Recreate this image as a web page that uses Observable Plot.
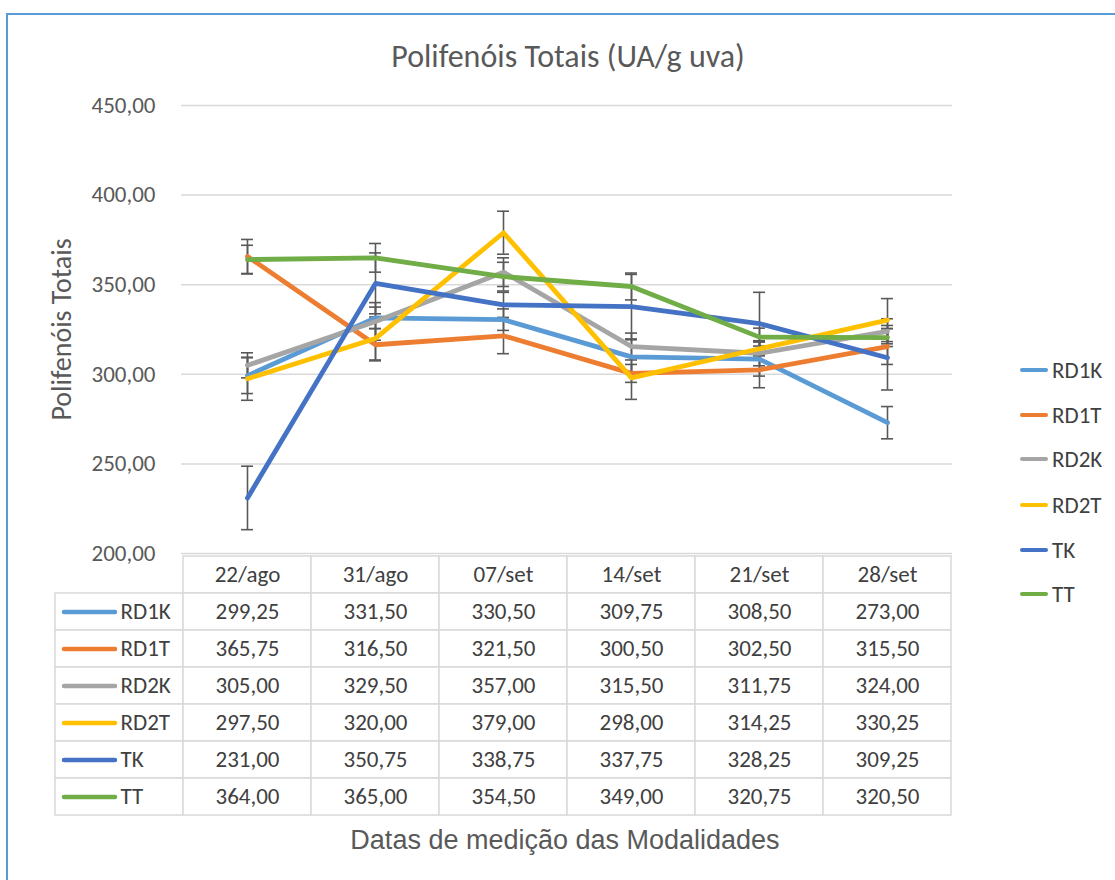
<!DOCTYPE html>
<html>
<head>
<meta charset="utf-8">
<script src="https://cdn.jsdelivr.net/npm/d3@7"></script>
<script src="https://cdn.jsdelivr.net/npm/@observablehq/plot@0.6"></script>
<style>
  html, body { margin: 0; padding: 0; background: #fff; }
  #root { position: relative; width: 1115px; height: 880px; overflow: hidden; background: #fff; }
  #frame { position: absolute; left: 6px; top: 13px; width: 1300px; height: 1000px;
           border-left: 2px solid #5b9bd5; border-top: 2px solid #5b9bd5; }
  .abs { position: absolute; }
  #title { left: 0; width: 1136px; top: 38px; text-align: center; font-family: Carlito, Calibri, Lato, sans-serif;
           font-size: 32px; line-height: 38px; color: #595959; }
  #xtitle { left: 0; width: 1130px; top: 824px; text-align: center; font-family: "Liberation Sans", Arial, sans-serif;
            font-size: 27px; line-height: 32px; color: #595959; }
  .leg { position: absolute; left: 1020px; height: 24px; display: flex; align-items: center;
         font-family: Carlito, Calibri, Lato, sans-serif; font-size: 23px; color: #404040; }
  .leg span.sw { display: inline-block; width: 28px; height: 4.5px; border-radius: 3px; margin-right: 4px; }
</style>
</head>
<body>
<div id="root">
  <div id="frame"></div>
  <div id="title" class="abs">Polifenóis Totais (UA/g uva)</div>
  <div id="chart" class="abs" style="left:0;top:80px;"></div>
  <div id="table" class="abs" style="left:0;top:552px;"></div>
  <div id="legend"></div>
  <div id="xtitle" class="abs">Datas de medição das Modalidades</div>
</div>
<script>
const dates = ["22/ago", "31/ago", "07/set", "14/set", "21/set", "28/set"];
const seriesNames = ["RD1K", "RD1T", "RD2K", "RD2T", "TK", "TT"];
const seriesColors = ["#5B9BD5", "#ED7D31", "#A5A5A5", "#FFC000", "#4472C4", "#70AD47"];

const RD1K = [299.25, 331.50, 330.50, 309.75, 308.50, 273.00];
const RD1T = [365.75, 316.50, 321.50, 300.50, 302.50, 315.50];
const RD2K = [305.00, 329.50, 357.00, 315.50, 311.75, 324.00];
const RD2T = [297.50, 320.00, 379.00, 298.00, 314.25, 330.25];
const TK   = [231.00, 350.75, 338.75, 337.75, 328.25, 309.25];
const TT   = [364.00, 365.00, 354.50, 349.00, 320.75, 320.50];

// error bar half-widths
const errRD1K = [10, 6, 6, 9.5, 9.5, 9];
const errRD1T = [9.5, 9, 10, 5, 10, 10];
const errRD2K = [7, 10.5, 8, 7.5, 7, 7];
const errRD2T = [12, 12, 12, 12, 4, 12];
const errTK   = [17.7, 17, 7, 18, 17.5, 18];
const errTT   = [8, 8, 8, 7.5, 5, 5];

const yDomain = [200, 450];

const valuesBySeries = {RD1K, RD1T, RD2K, RD2T, TK, TT};
const errBySeries = {RD1K: errRD1K, RD1T: errRD1T, RD2K: errRD2K, RD2T: errRD2T, TK: errTK, TT: errTT};

const rows = [];
for (const s of seriesNames) {
  dates.forEach((d, i) => rows.push({s, date: d, v: valuesBySeries[s][i], e: errBySeries[s][i]}));
}
const fmt = v => d3.format(".2f")(v).replace(".", ",");

const CAL = "Carlito, Calibri, Lato, sans-serif";
const color = {domain: seriesNames, range: seriesColors};
const ebStroke = "#595959";

const chart = Plot.plot({
  width: 1115, height: 473,
  marginTop: 25, marginBottom: 0, marginLeft: 181, marginRight: 163,
  style: {fontFamily: CAL, fontSize: "23px", color: "#595959", background: "transparent", overflow: "visible"},
  x: {type: "band", domain: dates, padding: 0, axis: null},
  y: {domain: yDomain, ticks: 5, tickFormat: fmt, tickSize: 0, tickPadding: 26, label: null},
  color,
  marks: [
    Plot.gridY({ticks: 5, stroke: "#d9d9d9", strokeOpacity: 1, strokeWidth: 1.5}),
    Plot.ruleX(rows, {x: "date", y1: d => d.v - d.e, y2: d => d.v + d.e, stroke: ebStroke, strokeWidth: 1.6}),
    Plot.tickY(rows, {x: "date", y: d => d.v - d.e, insetLeft: 58, insetRight: 58, stroke: ebStroke, strokeWidth: 1.6}),
    Plot.tickY(rows, {x: "date", y: d => d.v + d.e, insetLeft: 58, insetRight: 58, stroke: ebStroke, strokeWidth: 1.6}),
    Plot.line(rows, {x: "date", y: "v", z: "s", stroke: "s", strokeWidth: 4.8, strokeLinecap: "round", strokeLinejoin: "round"}),
    Plot.text(["Polifenóis Totais"], {frameAnchor: "left", textAnchor: "middle", dx: -119, rotate: -90, fontSize: 28, fill: "#595959"})
  ]
});
document.getElementById("chart").appendChild(chart);

// data table
const cells = [];
dates.forEach(d => cells.push({col: d, row: "hdr", text: d}));
for (const s of seriesNames) {
  cells.push({col: "lab", row: s, text: ""});
  dates.forEach((d, i) => cells.push({col: d, row: s, text: fmt(valuesBySeries[s][i])}));
}
const labels = seriesNames.map(s => ({col: "lab", row: s, s}));

const table = Plot.plot({
  width: 1115, height: 267,
  marginTop: 1, marginBottom: 1, marginLeft: 53, marginRight: 163,
  style: {fontFamily: CAL, fontSize: "23px", color: "#404040", background: "transparent", overflow: "visible"},
  x: {type: "band", domain: ["lab", ...dates], padding: 0, axis: null},
  y: {type: "band", domain: ["hdr", ...seriesNames], padding: 0, axis: null},
  color,
  marks: [
    Plot.cell(cells, {x: "col", y: "row", fill: "white", stroke: "#d9d9d9", strokeWidth: 1.5, inset: 0}),
    Plot.text(cells, {x: "col", y: "row", text: "text", fill: "#404040", fontSize: 23}),
    Plot.tickY(labels, {x: "col", y: "row", stroke: "s", strokeWidth: 4.5, strokeLinecap: "round", insetLeft: 9, insetRight: 68}),
    Plot.text(labels, {x: "col", y: "row", text: "s", textAnchor: "start", dx: 1, fill: "#404040", fontSize: 23})
  ]
});
document.getElementById("table").appendChild(table);

// legend
const legendY = [370, 415, 459, 505, 550, 594];
const legend = document.getElementById("legend");
seriesNames.forEach((s, i) => {
  const el = document.createElement("div");
  el.className = "leg";
  el.style.top = (legendY[i] - 12) + "px";
  el.innerHTML = `<span class="sw" style="background:${seriesColors[i]}"></span>${s}`;
  legend.appendChild(el);
});
</script>
</body>
</html>
